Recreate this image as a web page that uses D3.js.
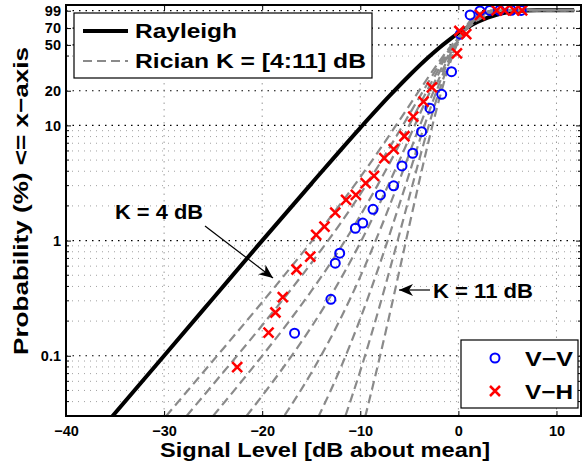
<!DOCTYPE html>
<html>
<head>
<meta charset="utf-8">
<script src="https://cdn.jsdelivr.net/npm/d3@7"></script>
<style>
  body { margin: 0; background: #fff; }
  svg { display: block; }
  text { font-family: "Liberation Sans", Arial, Helvetica, sans-serif; font-weight: bold; fill: #000; }
</style>
</head>
<body>
<div id="chart"></div>
<script>
// Tick values
const xTicks = [-40, -30, -20, -10, 0, 10];
const yTicks = [0.1, 1, 10, 20, 50, 70, 99];
const yMinor = [0.04, 0.05, 0.06, 0.07, 0.08, 0.09,
  0.2, 0.3, 0.4, 0.5, 0.6, 0.7, 0.8, 0.9,
  2, 3, 4, 5, 6, 7, 8, 9, 40];

// Rayleigh curve [dB, %]
const rayleigh = [[-35.4, 0.029], [-30, 0.1], [-25, 0.316], [-20, 1.0], [-15, 3.11],
  [-10, 9.52], [-7, 18.1], [-5, 27.1], [-3, 39.4], [-2, 46.8], [-1, 54.8], [0, 63.2],
  [1, 71.6], [2, 79.5], [3, 86.4], [4, 91.9], [5, 95.8], [6, 98.1], [7, 99.33],
  [8, 99.82], [9, 99.96], [10, 99.995], [11.8, 100]];

// Rician curves, K = 4..11 dB [dB, %]
const rice4 = [[-29.8, 0.0299], [-25, 0.0909], [-20, 0.292], [-18.5, 0.417], [-15, 0.975],
  [-12, 2.09], [-10, 3.55], [-8, 6.21], [-6, 11.1], [-4, 20.0], [-2, 35.4], [-1, 46.1],
  [0, 58.1], [1, 70.7], [2, 82.1], [3, 91.0], [4, 96.4], [5, 98.95], [6, 99.8],
  [7, 99.98], [9, 100], [11.8, 100]];
const rice5 = [[-27.7, 0.0301], [-25, 0.0565], [-20, 0.184], [-15, 0.636], [-12, 1.42],
  [-10, 2.53], [-8, 4.68], [-6, 8.96], [-4, 17.4], [-2, 33.2], [-1, 44.5], [0, 57.5],
  [1, 71.0], [2, 83.1], [3, 92.1], [4, 97.2], [5, 99.3], [6, 99.9], [7, 99.99],
  [9, 100], [11.8, 100]];
const rice6 = [[-25, 0.0301], [-22, 0.0614], [-20, 0.0999], [-17, 0.213], [-15, 0.364],
  [-12, 0.869], [-10, 1.65], [-8, 3.29], [-6, 6.85], [-4, 14.8], [-2, 30.8], [-1, 42.8],
  [0, 56.8], [1, 71.4], [2, 84.4], [3, 93.3], [4, 97.95], [5, 99.6], [6, 99.96],
  [8, 100], [11.8, 100]];
const rice7 = [[-21.6, 0.030], [-20, 0.0449], [-17, 0.0998], [-15, 0.177], [-12, 0.465],
  [-10, 0.958], [-8, 2.12], [-6, 4.98], [-4, 12.2], [-2, 28.2], [-1, 41.0], [0, 56.1],
  [1, 72.1], [2, 85.7], [3, 94.6], [4, 98.6], [5, 99.8], [6, 99.985], [8, 100], [11.8, 100]];
const rice8 = [[-17.7, 0.0305], [-15, 0.0709], [-12, 0.211], [-10, 0.487], [-8, 1.23],
  [-6, 3.36], [-4, 9.6], [-2, 25.2], [-1, 39.0], [0, 55.5], [1, 73.0], [2, 87.3],
  [3, 95.8], [4, 99.17], [5, 99.91], [7, 100], [11.8, 100]];
const rice9 = [[-14.3, 0.0292], [-14, 0.033], [-12, 0.0786], [-10, 0.210], [-8, 0.630],
  [-6, 2.08], [-5, 3.83], [-4, 7.2], [-2, 22.4], [-1, 36.8], [0, 55.0], [1, 74.1],
  [2, 89.1], [3, 97.0], [4, 99.55], [5, 99.97], [7, 100], [11.8, 100]];
const rice10 = [[-11.5, 0.0303], [-10, 0.0739], [-8, 0.275], [-6, 1.15], [-5, 2.40],
  [-4, 5.0], [-3, 10.1], [-2, 19.4], [-1, 34.0], [0, 54.4], [1, 75.4], [2, 90.9],
  [3, 98.0], [4, 99.8], [5, 99.99], [7, 100], [11.8, 100]];
const rice11 = [[-9.5, 0.0295], [-8, 0.0984], [-7, 0.230], [-6, 0.555], [-5, 1.35],
  [-4, 3.24], [-3, 7.5], [-2, 16.3], [-1, 31.9], [0, 53.9], [1, 77.0], [2, 92.7],
  [3, 98.8], [4, 99.92], [6, 100], [11.8, 100]];
const riceCurves = [rice4, rice5, rice6, rice7, rice8, rice9, rice10, rice11];

// Measured V-V (circles) [dB, %]
const vv = [[-16.7, 0.157], [-13.0, 0.309], [-12.55, 0.637], [-12.1, 0.778], [-10.5, 1.28],
  [-9.75, 1.42], [-8.7, 1.87], [-7.95, 2.49], [-6.6, 2.99], [-5.75, 4.45], [-4.65, 5.73],
  [-3.75, 8.83], [-2.9, 14.1], [-1.7, 18.6], [-0.7, 29.3], [0.2, 62], [1.2, 91],
  [2.2, 98.5], [3.2, 99.5], [4.2, 99.8], [5.4, 99.9], [6.4, 99.6]];
// Measured V-H (crosses) [dB, %]
const vh = [[-22.55, 0.0798], [-19.35, 0.159], [-18.65, 0.2375], [-17.9, 0.323],
  [-16.5, 0.561], [-15.1, 0.727], [-14.5, 1.12], [-13.65, 1.32], [-12.55, 1.75],
  [-11.45, 2.26], [-10.45, 2.49], [-9.45, 3.15], [-8.6, 3.64], [-7.55, 5.19],
  [-6.6, 6.21], [-5.5, 8.05], [-4.6, 11.9], [-3.55, 16.1], [-2.7, 21.4], [-0.15, 42.3],
  [0.1, 66], [0.8, 62], [2.2, 91], [3.9, 99.5], [4.7, 99.7], [5.7, 99.8], [6.5, 99.6]];

// Размеры
const width = 586;
const height = 466;
const margin = { top: 5, right: 5, bottom: 50, left: 66 };

const x = d3.scaleLinear().domain([-40, 12.5]).range([margin.left, width - margin.right]);
const y = d3.scaleLog().domain([0.03, 111]).range([height - margin.bottom, margin.top]);
const L = x.range()[0], R = x.range()[1], T = y.range()[1], B = y.range()[0];

const svg = d3.select("#chart").append("svg")
  .attr("width", width).attr("height", height);

svg.append("clipPath").attr("id", "plot-clip")
  .append("rect").attr("x", L).attr("y", T).attr("width", R - L).attr("height", B - T);

// сетка
const grid = svg.append("g");
grid.selectAll(".gmin").data(yMinor).join("line")
  .attr("x1", L).attr("x2", R).attr("y1", d => y(d)).attr("y2", d => y(d))
  .attr("stroke", "#888").attr("stroke-width", 0.8).attr("stroke-dasharray", "1,5");
grid.selectAll(".gmaj").data(yTicks).join("line")
  .attr("x1", L).attr("x2", R).attr("y1", d => y(d)).attr("y2", d => y(d))
  .attr("stroke", "#000").attr("stroke-width", 1.2).attr("stroke-dasharray", "1.5,5");
grid.selectAll(".gx").data(xTicks.slice(1)).join("line")
  .attr("x1", d => x(d)).attr("x2", d => x(d)).attr("y1", T).attr("y2", B)
  .attr("stroke", "#999").attr("stroke-width", 1).attr("stroke-dasharray", "1.5,5");

const line = d3.line().x(d => x(d[0])).y(d => y(d[1])).curve(d3.curveMonotoneX);

const plot = svg.append("g").attr("clip-path", "url(#plot-clip)");

plot.append("path").datum(rayleigh)
  .attr("d", line).attr("fill", "none").attr("stroke", "#000").attr("stroke-width", 4);

plot.selectAll(".rice").data(riceCurves).join("path")
  .attr("d", line).attr("fill", "none").attr("stroke", "#8a8a8a")
  .attr("stroke-width", 2.2).attr("stroke-dasharray", "9,5");

const xMark = s => `M${-s},${-s}L${s},${s}M${-s},${s}L${s},${-s}`;

plot.selectAll(".vv").data(vv).join("circle")
  .attr("cx", d => x(d[0])).attr("cy", d => y(d[1])).attr("r", 4.5)
  .attr("fill", "none").attr("stroke", "#0000ff").attr("stroke-width", 2);

plot.selectAll(".vh").data(vh).join("path")
  .attr("transform", d => `translate(${x(d[0])},${y(d[1])})`)
  .attr("d", xMark(5)).attr("fill", "none").attr("stroke", "#ff0000").attr("stroke-width", 2.5);

// оси
const axes = svg.append("g");
axes.append("g").attr("transform", `translate(0,${B})`)
  .call(d3.axisBottom(x).tickValues(xTicks).tickSizeInner(-5).tickSizeOuter(0).tickPadding(10));
axes.append("g").attr("transform", `translate(0,${T})`)
  .call(d3.axisTop(x).tickValues(xTicks).tickSizeInner(-5).tickSizeOuter(0).tickFormat(""));
axes.append("g").attr("transform", `translate(${L},0)`)
  .call(d3.axisLeft(y).tickValues(yTicks).tickSizeInner(-5).tickSizeOuter(0).tickPadding(5)
    .tickFormat(d => String(d)));
axes.append("g").attr("transform", `translate(${R},0)`)
  .call(d3.axisRight(y).tickValues(yTicks).tickSizeInner(-5).tickSizeOuter(0).tickFormat(""));
// мелкие деления
axes.selectAll(".mt").data(yMinor).join("line")
  .attr("x1", L).attr("x2", L + 3).attr("y1", d => y(d)).attr("y2", d => y(d))
  .attr("stroke", "#000");
axes.selectAll(".mtr").data(yMinor).join("line")
  .attr("x1", R).attr("x2", R - 3).attr("y1", d => y(d)).attr("y2", d => y(d))
  .attr("stroke", "#000");
axes.selectAll(".domain").remove();
axes.selectAll(".tick line").attr("stroke", "#000").attr("stroke-width", 1);
axes.selectAll(".tick text").attr("font-size", 14.5).attr("font-weight", "bold")
  .attr("font-family", "Liberation Sans, Arial, sans-serif").attr("fill", "#000");
axes.append("rect").attr("x", L).attr("y", T).attr("width", R - L).attr("height", B - T)
  .attr("fill", "none").attr("stroke", "#000").attr("stroke-width", 2);

// текст, растянутый до ширины как на картинке
function label(parent, tx, ty, str, len, anchor) {
  return parent.append("text").attr("x", tx).attr("y", ty).attr("font-size", 21)
    .attr("text-anchor", anchor || "start")
    .attr("textLength", len).attr("lengthAdjust", "spacingAndGlyphs").text(str);
}

// подписи осей
label(svg, 325, 457, "Signal Level [dB about mean]", 330, "middle");
label(svg.append("g").attr("transform", "translate(28,201) rotate(-90)"), 0, 0,
  "Probability (%) <= x\u2212axis", 308, "middle");

// аннотации
function arrow(x1, y1, x2, y2) {
  const g = svg.append("g");
  g.append("line").attr("x1", x1).attr("y1", y1).attr("x2", x2).attr("y2", y2)
    .attr("stroke", "#000").attr("stroke-width", 1.2);
  const a = Math.atan2(y2 - y1, x2 - x1) * 180 / Math.PI;
  g.append("path").attr("d", "M0,0L-14,-6L-10,0L-14,6Z")
    .attr("transform", `translate(${x2},${y2}) rotate(${a})`).attr("fill", "#000");
}
label(svg, 115, 219, "K = 4 dB", 88);
arrow(205, 226, 273, 278);
label(svg, 433, 298, "K = 11 dB", 100);
arrow(430, 290, 399, 290);

// легенда 1
const lg1 = svg.append("g");
lg1.append("rect").attr("x", 74).attr("y", 13).attr("width", 298).attr("height", 65)
  .attr("fill", "#fff").attr("stroke", "#000").attr("stroke-width", 1.2);
lg1.append("line").attr("x1", 83).attr("x2", 128).attr("y1", 31).attr("y2", 31)
  .attr("stroke", "#000").attr("stroke-width", 4);
label(lg1, 135, 38, "Rayleigh", 102);
lg1.append("line").attr("x1", 83).attr("x2", 128).attr("y1", 61).attr("y2", 61)
  .attr("stroke", "#8a8a8a").attr("stroke-width", 2.2).attr("stroke-dasharray", "9,5");
label(lg1, 135, 68, "Rician K = [4:11] dB", 231);

// легенда 2
const lg2 = svg.append("g");
lg2.append("rect").attr("x", 461).attr("y", 340).attr("width", 117).attr("height", 68)
  .attr("fill", "#fff").attr("stroke", "#000").attr("stroke-width", 1.2);
lg2.append("circle").attr("cx", 495).attr("cy", 358).attr("r", 4.5)
  .attr("fill", "none").attr("stroke", "#0000ff").attr("stroke-width", 2);
label(lg2, 525, 366, "V\u2212V", 48);
lg2.append("path").attr("transform", "translate(495,391)").attr("d", xMark(5))
  .attr("fill", "none").attr("stroke", "#ff0000").attr("stroke-width", 2.5);
label(lg2, 525, 399, "V\u2212H", 48);
</script>
</body>
</html>
